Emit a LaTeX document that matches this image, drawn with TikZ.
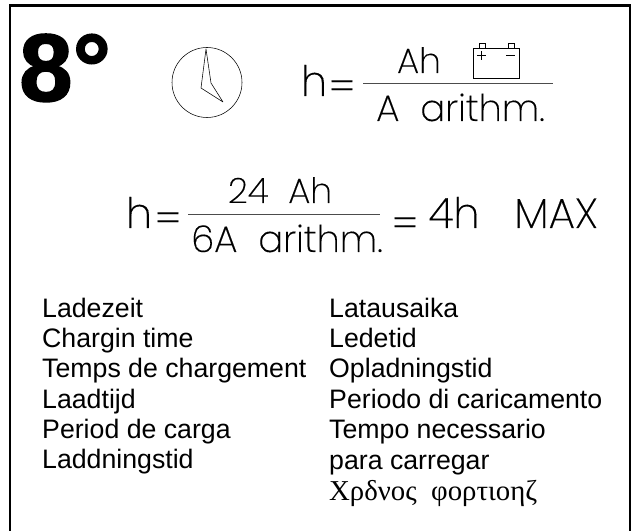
\documentclass[tikz,border=0pt]{standalone}
\usepackage{fontspec}
\setmainfont{Liberation Sans}
\newfontfamily\greekserif{Liberation Serif}
\newfontfamily\strokefont[FakeBold=0.25]{Poppins ExtraLight}
\newfontfamily\heavyfont[FakeBold=1.6]{Liberation Sans Bold}
\tikzset{
  listtext/.style={anchor=base west,inner sep=0pt,font=\fontsize{26.7bp}{26.7bp}\selectfont},
  formula/.style={anchor=base,inner sep=0pt,font=\strokefont\fontsize{35bp}{35bp}\selectfont},
  denom/.style={anchor=base,inner sep=0pt,font=\strokefont\fontsize{37bp}{37bp}\selectfont},
  bigformula/.style={anchor=base,inner sep=0pt,font=\strokefont\fontsize{42bp}{42bp}\selectfont},
  outline/.style={draw=black,line width=0.55pt},
  fracline/.style={draw=black!70,line width=0.8pt}
}
\begin{document}
\begin{tikzpicture}[x=1bp,y=-1bp]
\useasboundingbox (0,0) rectangle (633,531);
\fill[white] (0,0) rectangle (633,531);
\draw[black,line width=2.3pt] (10,531) -- (10,5.5) -- (630,5.5) -- (630,531);
\node[anchor=base west,inner sep=0pt,font=\heavyfont\fontsize{96bp}{96bp}\selectfont] (deg) at (19,101) {8°};
\draw[outline] (207,82.5) circle (35);
\draw[outline,line join=round] (206,49) -- (211,83) -- (223,102) -- (201,88) -- cycle;
\node[bigformula] (h1) at (314,96) {h};
\node[bigformula] (eq1) at (342,101) {=};
\draw[fracline] (363,83.5) -- (553,83.5);
\node[formula] (ah) at (419,73) {Ah};
\node[denom] (aa) at (460.5,121) {A\ \ arithm.};
\draw[outline] (473,48) rectangle (519,78);
\draw[outline] (479,43) rectangle (485,48) (508,43) rectangle (514,48);
\draw[outline] (477,55) -- (486,55) (481.5,51) -- (481.5,60) (506,55) -- (515,55);
\node[bigformula] (h2) at (139,228) {h};
\node[bigformula] (eq2) at (168,233) {=};
\draw[fracline] (188,214) -- (380,214);
\node[formula] (n) at (280,203) {24\ \ Ah};
\node[denom] (d) at (287,252) {6A\ \ arithm.};
\node[bigformula] (eq3) at (405,238) {=};
\node[bigformula] (four) at (454,228) {4h};
\node[bigformula] (mx) at (556,228) {MAX};
\foreach \t/\y/\n in {Ladezeit/317/a,Chargin time/347/b,Temps de chargement/377/c,Laadtijd/408/d,Period de carga/438/e,Laddningstid/468/f}
  \node[listtext] (l\n) at (42,\y) {\t};
\foreach \t/\y/\n in {Latausaika/317/a,Ledetid/347/b,Opladningstid/377/c,Periodo di caricamento/408/d,Tempo necessario/438/e,para carregar/469/f}
  \node[listtext] (r\n) at (329,\y) {\t};
\node[listtext,font=\greekserif\fontsize{28.8bp}{28.8bp}\selectfont] (rg) at (329,500) {Χρδνος\ \ φορτιοηζ};
\end{tikzpicture}
\end{document}
